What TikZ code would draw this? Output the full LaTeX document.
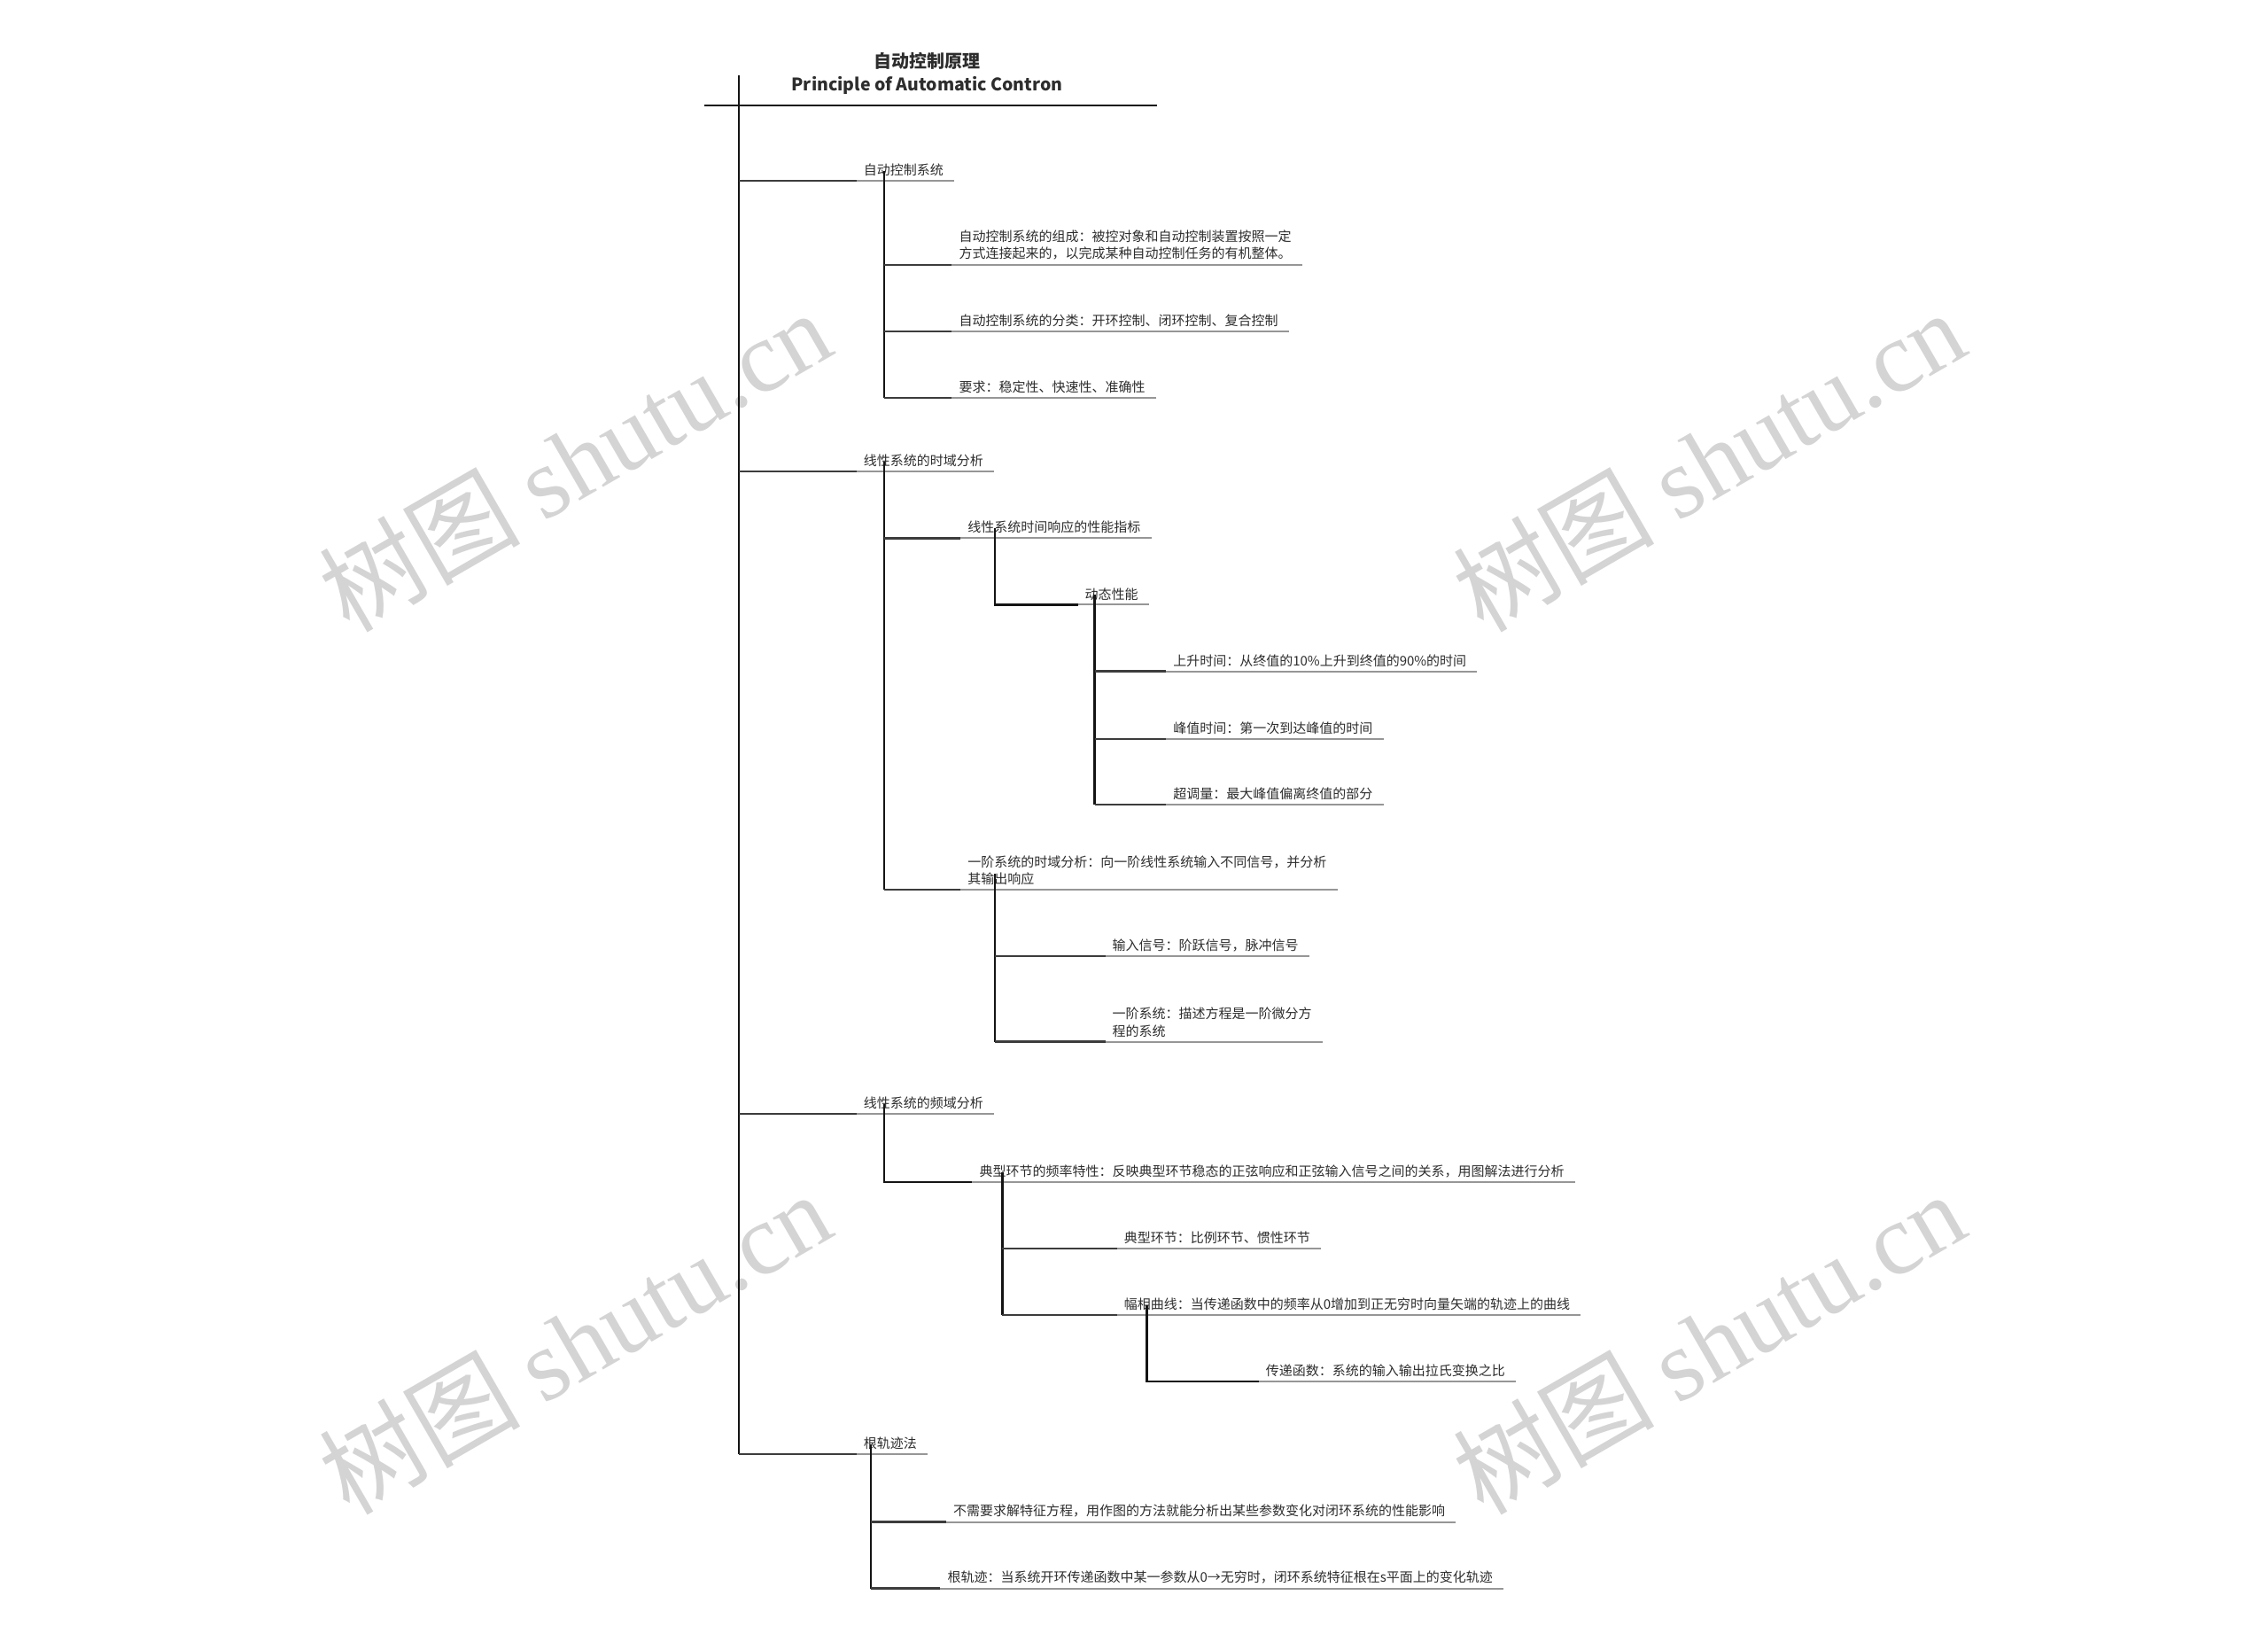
\documentclass[tikz,border=0pt]{standalone}
\usepackage{fontspec}
\setmainfont{Noto Sans CJK SC}
\newfontfamily\wmfont{Liberation Serif}
\usepackage{xcolor}
\usetikzlibrary{positioning}
\definecolor{lineink}{RGB}{20,20,20}
\definecolor{linkgray}{RGB}{60,60,60}
\definecolor{ulgray}{RGB}{150,150,150}
\definecolor{textink}{RGB}{45,45,45}
\definecolor{wmgray}{RGB}{212,212,212}

\begin{document}
\begin{tikzpicture}[x=1.63265pt, y=-1.63265pt,
    topic/.style={anchor=south west, inner xsep=0pt, inner ysep=5pt, align=left,
      text=textink, font=\fontsize{15pt}{19.5pt}\selectfont},
    spine/.style={draw=lineink, line width=2.4pt},
    link/.style={draw=linkgray, line width=2.4pt},
    uline/.style={draw=ulgray, line width=2pt},
    wmark/.style={text=wmgray, rotate=30, font=\fontsize{114pt}{114pt}\selectfont}]
  \useasboundingbox (0,0) rectangle (1568,1129);

  % watermarks
  \foreach \wx/\wy [count=\i] in {397/318, 1181/318, 397/928, 1181/928}
    \node[wmark] (wm\i) at (\wx,\wy) {树图 {\wmfont shutu.cn}};

  % title
  \node[align=center, inner sep=0pt, anchor=south, text=textink,
    font=\bfseries\fontsize{19.5pt}{26pt}\selectfont] (root) at (641,65.5)
    {{\fontsize{20pt}{26pt}\selectfont 自动控制原理}\\Principle of Automatic Contron};
  \coordinate (tl) at (487,73);
  \coordinate (tr) at (800,73);
  \coordinate (t0) at (511,52);

  % level 1
  \node[topic] (s1) at (597,125) {自动控制系统};
  \node[topic] (s2) at (597,326) {线性系统的时域分析};
  \node[topic] (s3) at (597,770) {线性系统的频域分析};
  \node[topic] (s4) at (597,1005) {根轨迹法};

  % 自动控制系统
  \node[topic] (a1) at (663,183) {自动控制系统的组成：被控对象和自动控制装置按照一定\\方式连接起来的，以完成某种自动控制任务的有机整体。};
  \node[topic] (a2) at (663,229) {自动控制系统的分类：开环控制、闭环控制、复合控制};
  \node[topic] (a3) at (663,275) {要求：稳定性、快速性、准确性};

  % 时域分析
  \node[topic] (b1) at (669,372) {线性系统时间响应的性能指标};
  \node[topic] (b11) at (750,418) {动态性能};
  \node[topic] (b111) at (811,464) {上升时间：从终值的10\%上升到终值的90\%的时间};
  \node[topic] (b112) at (811,511) {峰值时间：第一次到达峰值的时间};
  \node[topic] (b113) at (811,556) {超调量：最大峰值偏离终值的部分};
  \node[topic] (b2) at (669,615) {一阶系统的时域分析：向一阶线性系统输入不同信号，并分析\\其输出响应};
  \node[topic] (b21) at (769,661) {输入信号：阶跃信号，脉冲信号};
  \node[topic] (b22) at (769,720) {一阶系统：描述方程是一阶微分方\\程的系统};

  % 频域分析
  \node[topic] (c1) at (677,817) {典型环节的频率特性：反映典型环节稳态的正弦响应和正弦输入信号之间的关系，用图解法进行分析};
  \node[topic] (c11) at (777,863) {典型环节：比例环节、惯性环节};
  \node[topic] (c12) at (777,909) {幅相曲线：当传递函数中的频率从0增加到正无穷时向量矢端的轨迹上的曲线};
  \node[topic] (c121) at (875,955) {传递函数：系统的输入输出拉氏变换之比};

  % 根轨迹法
  \node[topic] (d1) at (659,1052) {不需要求解特征方程，用作图的方法就能分析出某些参数变化对闭环系统的性能影响};
  \node[topic] (d2) at (655,1098) {根轨迹：当系统开环传递函数中某一参数从0→无穷时，闭环系统特征根在s平面上的变化轨迹};

  % underlines
  \foreach \n in {s1,s2,s3,s4,a1,a2,a3,b1,b11,b111,b112,b113,b2,b21,b22,c1,c11,c12,c121,d1,d2}
    \draw[uline] ([xshift=-8pt]\n.south west) -- ([xshift=12pt]\n.south east);

  % trunk
  \draw[spine] (tl) -- (tr);
  \draw[spine] (t0) -- (t0 |- s4.south west);
  \foreach \n in {s1,s2,s3,s4}
    \draw[link] (t0 |- \n.south west) -- ([xshift=-8pt]\n.south west);

  % branches
  \coordinate (k1) at ([xshift=23pt,yshift=11pt]s1.south west);
  \draw[spine] (k1) -- (k1 |- a3.south west);
  \foreach \n in {a1,a2,a3}
    \draw[link] (k1 |- \n.south west) -- ([xshift=-8pt]\n.south west);

  \coordinate (k2) at ([xshift=23pt,yshift=11pt]s2.south west);
  \draw[spine] (k2) -- (k2 |- b2.south west);
  \foreach \n in {b1,b2}
    \draw[link] (k2 |- \n.south west) -- ([xshift=-8pt]\n.south west);

  \coordinate (k3) at ([xshift=31pt,yshift=11pt]b1.south west);
  \draw[spine] (k3) -- (k3 |- b11.south west) -- ([xshift=-8pt]b11.south west);

  \coordinate (k4) at ([xshift=11pt,yshift=11pt]b11.south west);
  \draw[spine] (k4) -- (k4 |- b113.south west);
  \foreach \n in {b111,b112,b113}
    \draw[link] (k4 |- \n.south west) -- ([xshift=-8pt]\n.south west);

  \coordinate (k5) at ([xshift=31pt,yshift=18pt]b2.south west);
  \draw[spine] (k5) -- (k5 |- b22.south west);
  \foreach \n in {b21,b22}
    \draw[link] (k5 |- \n.south west) -- ([xshift=-8pt]\n.south west);

  \coordinate (k6) at ([xshift=23pt,yshift=11pt]s3.south west);
  \draw[spine] (k6) -- (k6 |- c1.south west) -- ([xshift=-8pt]c1.south west);

  \coordinate (k7) at ([xshift=26pt,yshift=11pt]c1.south west);
  \draw[spine] (k7) -- (k7 |- c12.south west);
  \foreach \n in {c11,c12}
    \draw[link] (k7 |- \n.south west) -- ([xshift=-8pt]\n.south west);

  \coordinate (k8) at ([xshift=26pt,yshift=11pt]c12.south west);
  \draw[spine] (k8) -- (k8 |- c121.south west) -- ([xshift=-8pt]c121.south west);

  \coordinate (k9) at ([xshift=8pt,yshift=11pt]s4.south west);
  \draw[spine] (k9) -- (k9 |- d2.south west);
  \foreach \n in {d1,d2}
    \draw[link] (k9 |- \n.south west) -- ([xshift=-8pt]\n.south west);
\end{tikzpicture}
\end{document}
